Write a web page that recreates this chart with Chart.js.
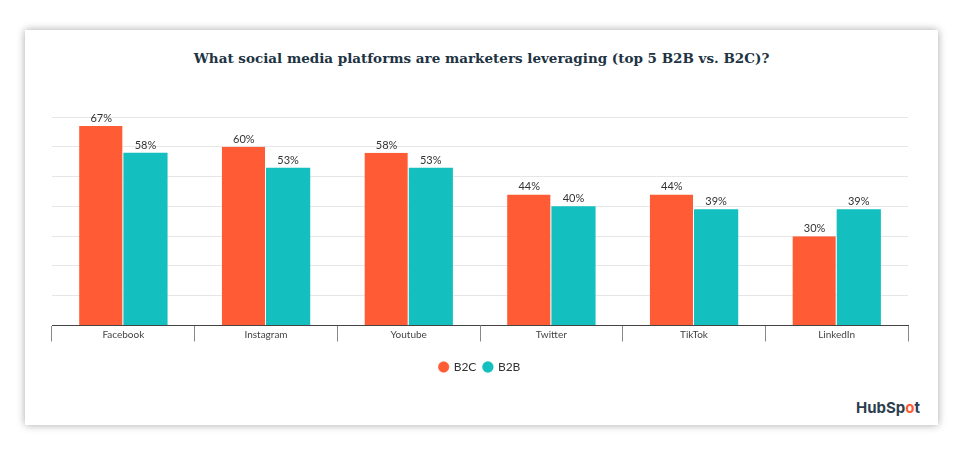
<!DOCTYPE html>
<html><head><meta charset="utf-8">
<script src="https://cdn.jsdelivr.net/npm/chart.js@4/dist/chart.umd.min.js"></script>
<style>
body{margin:0;background:#fff;width:963px;height:449px;position:relative;font-family:Lato,sans-serif}
#card{position:absolute;left:25px;top:30px;width:913px;height:395px;background:#fff;box-shadow:0 0 8px rgba(0,0,0,0.35)}
#title{position:absolute;left:0;right:0;top:20px;text-align:center;font-family:"DejaVu Serif",serif;font-weight:bold;font-size:13.5px;color:#213343}
#wrap{position:absolute;left:0;top:80px;width:913px;height:273px}
#logo{position:absolute;right:18px;bottom:8px;font-family:Inter,sans-serif;font-weight:bold;font-size:15px;color:#2d3e50}
</style></head><body>
<div id="card">
<div id="title">What social media platforms are marketers leveraging (top 5 B2B vs. B2C)?</div>
<div id="wrap"><canvas id="c"></canvas></div>
<div id="logo">HubSp<span style="color:#ff5c35">o</span>t</div>
</div>
<script>
const categories=["Facebook","Instagram","Youtube","Twitter","TikTok","LinkedIn"];
const b2c=[67,60,58,44,44,30];
const b2b=[58,53,53,40,39,39];
const labelPlugin={id:'lbl',afterDatasetsDraw(ch){const ctx=ch.ctx;ctx.save();ctx.font='11px Lato, sans-serif';ctx.fillStyle='#333';ctx.textAlign='center';ctx.textBaseline='bottom';
ch.data.datasets.forEach((d,i)=>{ch.getDatasetMeta(i).data.forEach((b,j)=>{ctx.fillText(d.data[j]+'%',b.x,b.y-2);});});
const xs=ch.scales.x;ctx.font='10px Lato, sans-serif';ctx.fillStyle='#444';ctx.textBaseline='middle';
categories.forEach((c,j)=>ctx.fillText(c,xs.getPixelForValue(j),ch.chartArea.bottom+9));
ctx.restore();}};
new Chart(document.getElementById('c'),{type:'bar',
data:{labels:categories,datasets:[
{label:'B2C',data:b2c,backgroundColor:'#ff5c35',borderColor:'#fff',borderWidth:{right:1,left:0,top:0,bottom:0}},
{label:'B2B',data:b2b,backgroundColor:'#13bfbf',borderColor:'#fff',borderWidth:0}]},
options:{responsive:true,maintainAspectRatio:false,animation:false,devicePixelRatio:1,
layout:{padding:{left:27,right:30,top:7,bottom:0}},
categoryPercentage:0.62,barPercentage:1,
plugins:{legend:{position:'bottom',labels:{usePointStyle:true,pointStyle:'circle',boxWidth:8,boxHeight:8,padding:7.5,color:'#333',font:{size:12,family:'Lato'}}},tooltip:{enabled:false}},
scales:{
y:{min:0,max:70,ticks:{stepSize:10,display:false},border:{display:false},grid:{color:'#e6e6e6',drawTicks:false}},
x:{offset:true,grid:{offset:true,color:'#888',drawOnChartArea:false,tickLength:16},border:{color:'#444'},ticks:{color:'rgba(0,0,0,0)',font:{size:10,family:'Lato'},padding:0}}
}},plugins:[labelPlugin]});
</script></body></html>
